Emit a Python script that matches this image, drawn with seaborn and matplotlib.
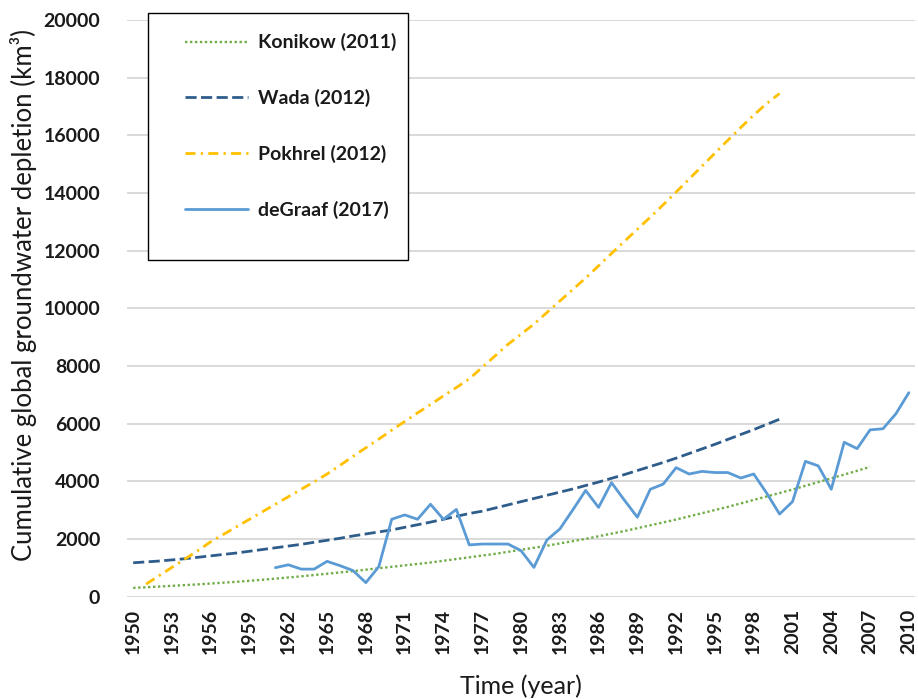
import matplotlib
matplotlib.use('Agg')
import matplotlib.pyplot as plt
import seaborn as sns
import pandas as pd
from matplotlib.patches import Rectangle

# data (km3)
konikow_years = list(range(1950, 2008))
konikow = [300, 320, 345, 370, 395, 420, 450, 480, 510, 545,
           580, 620, 660, 700, 745, 790, 835, 880, 930, 980,
           1030, 1080, 1130, 1180, 1240, 1300, 1360, 1420, 1480, 1550,
           1620, 1690, 1760, 1840, 1920, 2000, 2090, 2180, 2270, 2370,
           2470, 2570, 2670, 2780, 2890, 3000, 3110, 3230, 3350, 3470,
           3590, 3710, 3840, 3970, 4100, 4230, 4360, 4500]

wada_years = list(range(1950, 2001))
wada = [1170, 1200, 1230, 1270, 1310, 1360, 1410, 1460, 1510, 1570,
        1630, 1690, 1750, 1810, 1880, 1950, 2020, 2100, 2170, 2240,
        2310, 2400, 2490, 2580, 2680, 2780, 2880, 2960, 3070, 3180,
        3290, 3400, 3510, 3620, 3730, 3850, 3970, 4100, 4230, 4370,
        4510, 4650, 4800, 4960, 5120, 5280, 5450, 5620, 5790, 5970,
        6150]

pokhrel_years = list(range(1951, 2001))
pokhrel = [430, 720, 1010, 1300, 1590, 1900, 2160, 2420, 2680,
           2940, 3200, 3460, 3720, 3980, 4250, 4550, 4860, 5160, 5460,
           5770, 6070, 6370, 6660, 6960, 7250, 7550, 7950, 8350, 8750,
           9100, 9450, 9850, 10250, 10650, 11050, 11470, 11900, 12320, 12740,
           13160, 13590, 14030, 14480, 14930, 15380, 15830, 16270, 16700, 17100,
           17450]

degraaf_years = list(range(1961, 2011))
degraaf = [1000, 1100, 950, 950, 1220, 1070, 900, 480, 1035,
           2680, 2830, 2680, 3200, 2680, 3020, 1790, 1820, 1820, 1820,
           1590, 1010, 1960, 2340, 3000, 3680, 3090, 3950, 3340, 2750,
           3720, 3900, 4470, 4250, 4340, 4300, 4300, 4110, 4250, 3590,
           2860, 3290, 4690, 4530, 3720, 5350, 5130, 5780, 5820, 6340,
           7070]

series = [
    ('Konikow (2011)', konikow_years, konikow, '#70AD47', (0, (1, 1.1)), 1.7),
    ('Wada (2012)', wada_years, wada, '#2E5D8C', (0, (4, 1.6)), 2.0),
    ('Pokhrel (2012)', pokhrel_years, pokhrel, '#FFC000', (0, (3.6, 1.9, 0.8, 1.9)), 2.0),
    ('deGraaf (2017)', degraaf_years, degraaf, '#5B9BD5', '-', 2.0),
]

sns.set_style('white')
plt.rcParams['font.family'] = ['Lato', 'DejaVu Sans']
txt = '#1a1a1a'

W, H = 918, 699
fig = plt.figure(figsize=(W / 100, H / 100), dpi=100)
ax = fig.add_axes([126.7 / W, 1 - 596.5 / H, 788.6 / W, 576.5 / H])

for name, yrs, vals, col, ls, lw in series:
    d = pd.DataFrame({'year': yrs, 'value': vals})
    sns.lineplot(data=d, x='year', y='value', color=col, linestyle=ls,
                 linewidth=lw, label=name, ax=ax)

ax.set_xlim(1949.5, 2010.5)
ax.set_ylim(0, 20000)
ax.set_xticks(range(1950, 2011, 3))
ax.set_yticks(range(0, 20001, 2000))
ax.yaxis.grid(True, color='#d9d9d9', linewidth=1.4)
ax.set_axisbelow(True)
for s in ax.spines.values():
    s.set_visible(False)
ax.tick_params(axis='y', length=0, pad=19, labelsize=14, labelcolor=txt)
ax.tick_params(axis='x', length=0, pad=9, labelsize=14, labelcolor=txt,
               labelrotation=90)
for lab in ax.get_xticklabels() + ax.get_yticklabels():
    lab.set_fontweight('bold')

ax.set_xlabel('Time (year)', fontsize=18, color=txt)
ax.set_ylabel('Cumulative global groundwater depletion (km³)', fontsize=18.5, color=txt)
ax.xaxis.set_label_coords(0.5, -0.136)
ax.yaxis.set_label_coords(-0.114, 0.523)

# legend box
ax.add_patch(Rectangle((0.027, 0.5837), 0.3297, 0.4284, transform=ax.transAxes,
                       facecolor='white', edgecolor='black', linewidth=1,
                       clip_on=False, zorder=4))
handles, labels = ax.get_legend_handles_labels()
leg = ax.legend(handles, labels, loc='upper left', bbox_to_anchor=(0.0739, 0.977),
                frameon=False, borderpad=0, borderaxespad=0, handlelength=3.24,
                handletextpad=0.51, labelspacing=1.94,
                prop={'size': 14, 'weight': 'bold'})
leg.set_zorder(5)
for t in leg.get_texts():
    t.set_color(txt)

fig.savefig('out.png', dpi=100)
